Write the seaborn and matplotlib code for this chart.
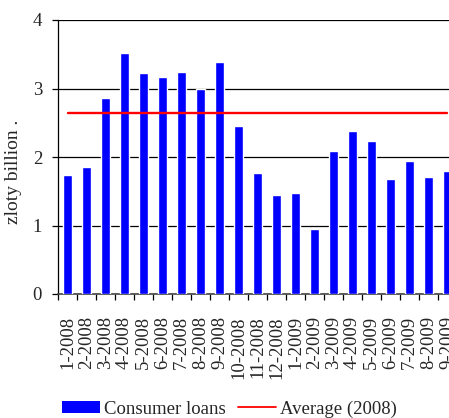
import matplotlib
matplotlib.use("Agg")
import matplotlib.pyplot as plt
from matplotlib.patches import Patch
from matplotlib.lines import Line2D
import numpy as np
import pandas as pd
import seaborn as sns

months = ["1-2008", "2-2008", "3-2008", "4-2008", "5-2008", "6-2008", "7-2008",
          "8-2008", "9-2008", "10-2008", "11-2008", "12-2008", "1-2009", "2-2009",
          "3-2009", "4-2009", "5-2009", "6-2009", "7-2009", "8-2009", "9-2009"]
consumer_loans = [1.74, 1.85, 2.86, 3.52, 3.23, 3.17, 3.24, 3.00, 3.39, 2.45,
                  1.77, 1.45, 1.47, 0.95, 2.09, 2.38, 2.23, 1.68, 1.94, 1.71, 1.80]
y_ticks = [0, 1, 2, 3, 4]

df = pd.DataFrame({"month": months, "loans": consumer_loans})
avg_2008 = float(np.mean(consumer_loans[:12]))
df["average"] = avg_2008

sns.set_theme(style="white")
plt.rcParams["font.family"] = ["Liberation Serif", "DejaVu Serif"]

FS = 13.5

fig = plt.figure(figsize=(4.49, 4.18), dpi=100)
ax = fig.add_axes([58 / 449, 124 / 418, 399 / 449, 274 / 418])

sns.barplot(data=df, x="month", y="loans", color="#0000FF", saturation=1,
            width=0.44, ax=ax, zorder=3)
sns.lineplot(x=np.arange(len(months)), y=df["average"], color="#FF0000",
             linewidth=1.7, ax=ax, zorder=4)

ax.set_xlim(-0.5, len(months) - 0.5)
ax.set_ylim(0, 4)
ax.set_yticks(y_ticks)
ax.set_yticklabels([str(t) for t in y_ticks], fontsize=FS)
ax.yaxis.grid(True, color="black", linewidth=0.9, zorder=0)
ax.set_axisbelow(True)

# category labels centred under bars, tick marks between categories
ax.set_xticks(np.arange(len(months)))
ax.set_xticklabels(months, rotation=90, fontsize=FS, va="top", ha="center")
ax.tick_params(axis="x", which="major", length=0, pad=16)
ax.set_xticks(np.arange(len(months) + 1) - 0.5, minor=True)
ax.tick_params(axis="x", which="minor", bottom=True, length=4.5, width=0.9,
               color="black", direction="out")
ax.tick_params(axis="y", left=True, length=4.5, width=0.9, color="black",
               direction="out", pad=7)

for side in ["top", "right"]:
    ax.spines[side].set_visible(False)
ax.spines["left"].set_color("black")
ax.spines["left"].set_linewidth(0.9)
ax.spines["bottom"].set_color("#444444")
ax.spines["bottom"].set_linewidth(1.2)

ax.set_xlabel("")
ax.set_ylabel("zloty billion .", fontsize=14)
ax.yaxis.set_label_coords(-36 / 399, 0.445)

handles = [Patch(facecolor="#0000FF", edgecolor="none"),
           Line2D([0], [0], color="#FF0000", linewidth=1.3)]
fig.legend(handles, ["Consumer loans", "Average (2008)"], loc="center left",
           bbox_to_anchor=(62 / 449, 1 - 409 / 418), ncol=2, frameon=False,
           fontsize=FS, handlelength=2.0, handleheight=0.65, handletextpad=0.25,
           columnspacing=0.65, borderpad=0, borderaxespad=0)

fig.savefig("out.png", dpi=100)
